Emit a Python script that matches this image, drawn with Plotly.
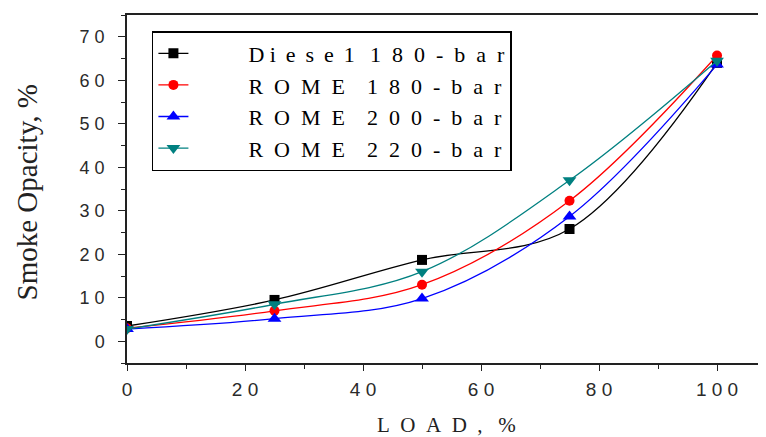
import plotly.graph_objects as go

load = [0, 25, 50, 75, 100]
diesel_180 = [3.5, 9.5, 18.7, 25.8, 64.0]
rome_180 = [3.0, 7.0, 13.0, 32.3, 65.7]
rome_200 = [2.8, 5.2, 9.8, 28.7, 63.6]
rome_220 = [2.8, 8.5, 16.0, 37.0, 64.5]

S = "\u00a0"
T = "\u2009"
LEAD = S * 10
def spaced(t, gap):
    return gap.join(list(t))

names = [LEAD + "D" + S + spaced("iese1", S + T) + S * 2 + T + spaced("180-bar", S * 2),
         LEAD + spaced("ROME", S * 2) + S * 4 + spaced("180-bar", S * 2),
         LEAD + spaced("ROME", S * 2) + S * 4 + spaced("200-bar", S * 2),
         LEAD + spaced("ROME", S * 2) + S * 4 + spaced("220-bar", S * 2)]
series = [diesel_180, rome_180, rome_200, rome_220]
colors = ["#000000", "#ff0000", "#0000ff", "#008080"]
symbols = ["square", "circle", "triangle-up", "triangle-down"]
msizes = [10, 10, 12, 12]

y_ticks = [0, 10, 20, 30, 40, 50, 60, 70]
y_ticktext = ["0", "1" + S + "0", "2" + S + "0", "3" + S + "0", "4" + S + "0",
              "5" + S + "0", "6" + S + "0", "7" + S + "0"]
x_ticks = [0, 20, 40, 60, 80, 100]
x_ticktext = ["0", "2" + S + "0", "4" + S + "0", "6" + S + "0", "8" + S + "0",
              "1" + S + "0" + S + "0"]
x_title = spaced("LOAD", S * 2) + S * 2 + "," + S * 3 + "%"
y_title = "Smoke Opacity, %"

fig = go.Figure()
for n, s, c, sym, ms in zip(names, series, colors, symbols, msizes):
    fig.add_trace(go.Scatter(
        x=load, y=s, name=n, mode="lines+markers",
        line=dict(color=c, width=1.3, shape="spline", smoothing=1.0),
        marker=dict(color=c, symbol=sym, size=ms),
    ))

fig.update_layout(
    width=758, height=429,
    margin=dict(l=119, r=0, t=7, b=74, autoexpand=False),
    paper_bgcolor="white", plot_bgcolor="white",
    showlegend=True,
    legend=dict(
        x=0.039, y=0.954, xanchor="left", yanchor="top",
        bordercolor="black", borderwidth=1.5, bgcolor="white",
        font=dict(family="Liberation Serif", size=22, color="black"),
        tracegroupgap=0,
    ),
    xaxis=dict(
        range=[0, 108.3], tickmode="array", tickvals=x_ticks, ticktext=x_ticktext,
        automargin=False,
        showgrid=False, zeroline=False, showline=True, linecolor="#222", linewidth=1.5,
        mirror=True, ticks="outside", ticklen=6, tickwidth=1.3, tickcolor="#222",
        minor=dict(dtick=10, ticks="outside", ticklen=4, tickwidth=1.2, tickcolor="#222"),
        tickfont=dict(family="Liberation Sans", size=19, color="#2a2a2a"),
        ticklabelstandoff=2,
    ),
    yaxis=dict(
        range=[-5, 75], tickmode="array", tickvals=y_ticks, ticktext=y_ticktext,
        automargin=False,
        showgrid=False, zeroline=False, showline=True, linecolor="#222", linewidth=1.5,
        ticks="outside", ticklen=7, tickwidth=1.3, tickcolor="#222",
        minor=dict(dtick=5, tick0=-5, ticks="outside", ticklen=4, tickwidth=1.2, tickcolor="#222"),
        tickfont=dict(family="Liberation Sans", size=18, color="#2a2a2a"),
        ticklabelstandoff=10,
    ),
    annotations=[
        dict(text=x_title, xref="paper", yref="paper", x=0.5, y=-0.178,
             xanchor="center", yanchor="middle", showarrow=False,
             font=dict(family="Liberation Serif", size=21, color="#222")),
        dict(text=y_title, xref="paper", yref="paper", x=-0.155, y=0.49,
             xanchor="center", yanchor="middle", showarrow=False, textangle=-90,
             font=dict(family="Liberation Serif", size=29, color="#222")),
    ],
)

fig.write_html("out.html")
